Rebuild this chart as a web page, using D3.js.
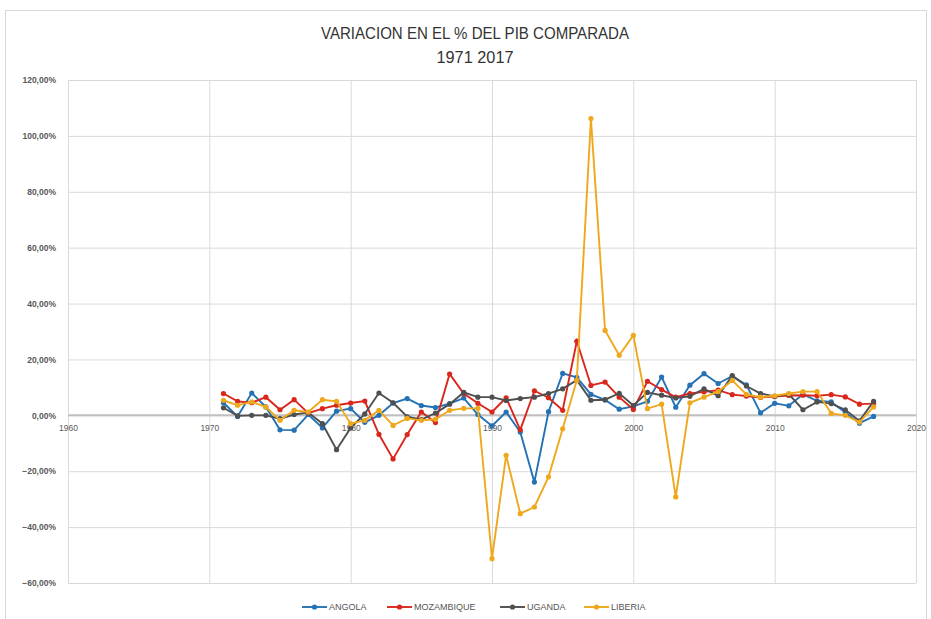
<!DOCTYPE html>
<html>
<head>
<meta charset="utf-8">
<script src="https://cdn.jsdelivr.net/npm/d3@7"></script>
<style>
  body { margin: 0; background: #fff; }
  .title { font-family: "Liberation Sans Narrow", "Arial Narrow", sans-serif; font-size: 16px; fill: #333; }
  .tick text { font-family: "Liberation Sans", Arial, sans-serif; fill: #555; }
  .legend { font-family: "Liberation Sans", Arial, sans-serif; font-size: 9px; fill: #555; }
</style>
</head>
<body>
<div id="chart"></div>
<script>
const width = 931;
const height = 619;

const years = [1971, 1972, 1973, 1974, 1975, 1976, 1977, 1978, 1979, 1980,
  1981, 1982, 1983, 1984, 1985, 1986, 1987, 1988, 1989, 1990,
  1991, 1992, 1993, 1994, 1995, 1996, 1997, 1998, 1999, 2000,
  2001, 2002, 2003, 2004, 2005, 2006, 2007, 2008, 2009, 2010,
  2011, 2012, 2013, 2014, 2015, 2016, 2017];

// % variation per year
const angola = [4.5, -0.4, 8.0, 3.0, -5.2, -5.3, 0.3, -4.5, 1.5, 2.4,
  -2.5, 0.0, 4.4, 6.0, 3.5, 2.8, 4.2, 6.2, 0.3, -3.8,
  1.2, -6.0, -23.9, 1.3, 15.0, 13.6, 7.5, 5.5, 2.2, 3.2,
  5.0, 13.7, 2.9, 10.8, 14.9, 11.4, 14.0, 10.9, 0.9, 4.3,
  3.4, 7.5, 5.2, 4.8, 1.0, -2.8, -0.4];
const mozambique = [7.8, 5.0, 4.5, 6.5, 2.0, 5.6, 0.8, 2.4, 3.6, 4.4,
  5.1, -6.8, -15.6, -6.9, 1.2, -2.6, 14.8, 7.8, 4.3, 1.2,
  6.3, -5.2, 8.8, 6.3, 1.8, 26.5, 10.7, 11.9, 6.5, 2.1,
  12.2, 9.2, 6.5, 7.8, 8.4, 9.0, 7.4, 6.9, 6.4, 6.7,
  7.1, 7.2, 7.0, 7.4, 6.6, 4.0, 4.2];
const uganda = [2.7, -0.2, 0.0, 0.0, -1.2, 0.3, 1.0, -3.0, -12.3, -4.5,
  0.5, 8.0, 4.5, -0.5, -1.5, 0.8, 4.0, 8.2, 6.5, 6.5,
  5.3, 6.0, 6.5, 7.8, 9.5, 12.6, 5.4, 5.6, 7.9, 3.5,
  8.2, 7.2, 6.2, 6.8, 9.5, 7.0, 14.2, 10.5, 7.8, 6.8,
  7.6, 2.0, 4.8, 4.2, 2.0, -2.0, 5.0];
const liberia = [5.4, 3.6, 4.8, 3.0, -1.8, 1.8, 1.2, 5.6, 5.0, -3.0,
  -1.8, 1.8, -3.6, -1.1, -1.8, -1.4, 1.8, 2.5, 2.5, -51.3,
  -14.3, -35.2, -32.8, -22.0, -4.8, 12.5, 106.2, 30.4, 21.5, 28.6,
  2.4, 4.0, -29.2, 4.5, 6.5, 8.5, 12.5, 7.5, 6.5, 7.0,
  7.8, 8.5, 8.5, 0.7, 0.0, -2.4, 3.0];

const seriesNames = ["ANGOLA", "MOZAMBIQUE", "UGANDA", "LIBERIA"];
const seriesValues = [angola, mozambique, uganda, liberia];
const colors = ["#2472b5", "#d9271d", "#4f4f4f", "#efa81c"];

const xTicks = [1960, 1970, 1980, 1990, 2000, 2010, 2020];
const yTicks = [-60, -40, -20, 0, 20, 40, 60, 80, 100, 120];

const svg = d3
  .select("#chart")
  .append("svg")
  .attr("width", width)
  .attr("height", height);

// outer frame
svg.append("rect")
  .attr("x", 5.5).attr("y", 10.5)
  .attr("width", 921).attr("height", 620)
  .style("fill", "none")
  .style("stroke", "#d9d9d9");

const xScale = d3.scaleLinear().domain([1960, 2020]).range([68, 916]);
const yScale = d3.scaleLinear().domain([-60, 120]).range([583, 80]);

// horizontal grid
svg.append("g")
  .attr("transform", `translate(${xScale(1960)},0)`)
  .call(d3.axisLeft(yScale).tickValues(yTicks).tickSize(-(xScale(2020) - xScale(1960))).tickFormat(""))
  .call(g => g.select(".domain").remove())
  .call(g => g.selectAll(".tick line").style("stroke", "#d9d9d9"));

// vertical grid
svg.append("g")
  .attr("transform", `translate(0,${yScale(-60)})`)
  .call(d3.axisBottom(xScale).tickValues(xTicks).tickSize(-(yScale(-60) - yScale(120))).tickFormat(""))
  .call(g => g.select(".domain").remove())
  .call(g => g.selectAll(".tick line").style("stroke", "#d9d9d9"));

// zero line
svg.append("line")
  .attr("x1", xScale(1960)).attr("x2", xScale(2020))
  .attr("y1", yScale(0)).attr("y2", yScale(0))
  .style("stroke", "#bfbfbf")
  .style("stroke-width", 2);

// y labels
svg.append("g")
  .attr("transform", `translate(${xScale(1960) - 12},0)`)
  .call(d3.axisLeft(yScale).tickValues(yTicks).tickSize(0).tickPadding(0)
    .tickFormat(d => d3.format(".2f")(d).replace(".", ",") + "%"))
  .call(g => g.select(".domain").remove())
  .call(g => g.selectAll("text").style("font-size", "8.5px").style("font-weight", "bold").style("fill", "#595959"));

// x labels along the zero line
svg.append("g")
  .attr("transform", `translate(0,${yScale(0) + 10})`)
  .call(d3.axisBottom(xScale).tickValues(xTicks).tickSize(0).tickPadding(0).tickFormat(d3.format("d")))
  .call(g => g.select(".domain").remove())
  .call(g => g.selectAll("text").style("font-size", "8.5px").style("fill", "#595959"));

// series
const line = d3.line()
  .x((d, i) => xScale(years[i]))
  .y(d => yScale(d));

seriesValues.forEach(function(values, k) {
  svg.append("path")
    .datum(values)
    .attr("d", line)
    .style("fill", "none")
    .style("stroke", colors[k])
    .style("stroke-width", 1.9);
  svg.selectAll(".dot" + k)
    .data(values)
    .join("circle")
    .attr("class", "dot" + k)
    .attr("cx", (d, i) => xScale(years[i]))
    .attr("cy", d => yScale(d))
    .attr("r", 2.6)
    .style("fill", colors[k]);
});

// title
svg.append("text")
  .attr("class", "title")
  .attr("x", 475).attr("y", 39)
  .attr("text-anchor", "middle")
  .attr("textLength", 308)
  .attr("lengthAdjust", "spacingAndGlyphs")
  .text("VARIACION EN EL % DEL PIB COMPARADA");
svg.append("text")
  .attr("class", "title")
  .attr("x", 475).attr("y", 63)
  .attr("text-anchor", "middle")
  .attr("textLength", 77)
  .attr("lengthAdjust", "spacingAndGlyphs")
  .text("1971 2017");

// legend
const legendX = [302, 387, 500, 584];
seriesNames.forEach(function(name, k) {
  const lg = svg.append("g").attr("transform", `translate(${legendX[k]},607)`);
  lg.append("line")
    .attr("x1", 0).attr("x2", 25)
    .style("stroke", colors[k]).style("stroke-width", 1.9);
  lg.append("circle")
    .attr("cx", 12.5).attr("r", 2.6).style("fill", colors[k]);
  lg.append("text")
    .attr("class", "legend")
    .attr("x", 27).attr("y", 3.2)
    .text(name);
});
</script>
</body>
</html>
